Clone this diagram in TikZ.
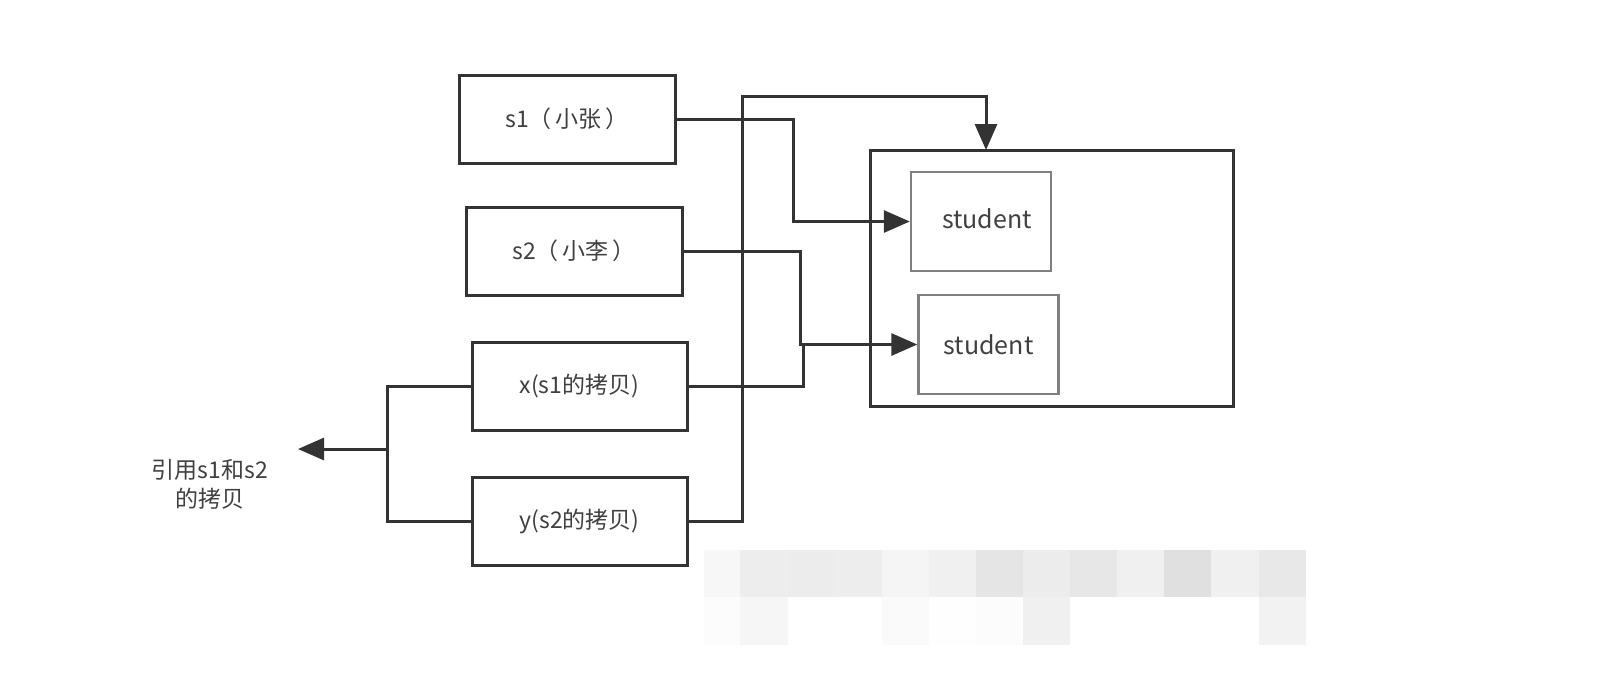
\documentclass[tikz,border=0pt]{standalone}
\usepackage{fontspec}
\setmainfont{Noto Sans CJK SC}
\usetikzlibrary{arrows.meta}
\definecolor{ln}{HTML}{333333}
\definecolor{tx}{HTML}{404040}
\definecolor{sb}{HTML}{808080}
\tikzset{
  box/.style={draw=ln, line width=1.5pt, text=tx, font=\fontsize{11.5pt}{14pt}\selectfont, inner sep=0pt},
  stbox/.style={draw=sb, line width=1.2pt, text=tx, font=\fontsize{12.5pt}{14pt}\selectfont, inner sep=0pt, minimum width=70pt, minimum height=49.5pt},
  conn/.style={draw=ln, line width=1.5pt},
  arr/.style={conn, -{Triangle[length=13pt,width=11pt]}},
  lbl/.style={text=tx, font=\fontsize{11.5pt}{14.5pt}\selectfont, align=center, inner sep=0pt},
}
\begin{document}
\begin{tikzpicture}[x=0.5pt,y=-0.5pt]
\useasboundingbox (0,0) rectangle (1604,698);
\fill[white] (0,0) rectangle (1604,698);

% mosaic watermark
\foreach \xa/\xb/\ga/\gb in {704/740/97/99, 740/788/93/96.5, 788/835/92.5/100, 835/882/93/100, 882/929/96/98, 929/976/94/99.5, 976/1023/90/99, 1023/1070/92.5/94, 1070/1117/90.5/100, 1117/1164/94/100, 1164/1211/88/100, 1211/1259/94/100, 1259/1306/91/95} {
  \fill[fill=white!\ga!black] (\xa,550) rectangle (\xb,597);
  \fill[fill=white!\gb!black] (\xa,597) rectangle (\xb,645);
}

% nodes
\node[box, minimum width=108pt, minimum height=44pt] (s1) at (567,119) {s1（\hspace{2pt}小张\hspace{2pt}）};
\node[box, minimum width=108pt, minimum height=44pt] (s2) at (574,251) {s2（\hspace{2pt}小李\hspace{2pt}）};
\node[box, minimum width=107.5pt, minimum height=44pt] (x) at (579.5,386) {x(s1的拷贝)};
\node[box, minimum width=107.5pt, minimum height=44pt] (y) at (579.5,521) {y(s2的拷贝)};
\node[box, minimum width=181.5pt, minimum height=128pt] (big) at (1051.5,278) {};
\node[stbox] (st1) at (981,221.5) {\raisebox{3pt}{\hspace{6pt}student}};
\node[stbox] (st2) at (988.5,344.5) {student};
\node[lbl] (lab) at (210,484) {引用s1和s2\\的拷贝};

% bend coordinates
\coordinate (k1) at (793,0);
\coordinate (k2) at (800,0);
\coordinate (k3) at (803,344.5);
\coordinate (k4) at (742,96);
\coordinate (t) at (986,150);
\coordinate (k6) at (387,0);
\coordinate (j) at (387,449);
\coordinate (tip) at (298,449);

% connectors
\draw[arr] (s1.east) -- (s1.east -| k1) |- (st1.west);
\draw[arr] (s2.east) -- (s2.east -| k2) |- (st2.west);
\draw[conn] (x.east) -| (k3);
\draw[arr] (y.east) -| (k4) -| (t);
\draw[conn] (x.west) -- (x.west -| k6) |- (y.west);
\draw[arr] (j) -- (tip);
\end{tikzpicture}
\end{document}
